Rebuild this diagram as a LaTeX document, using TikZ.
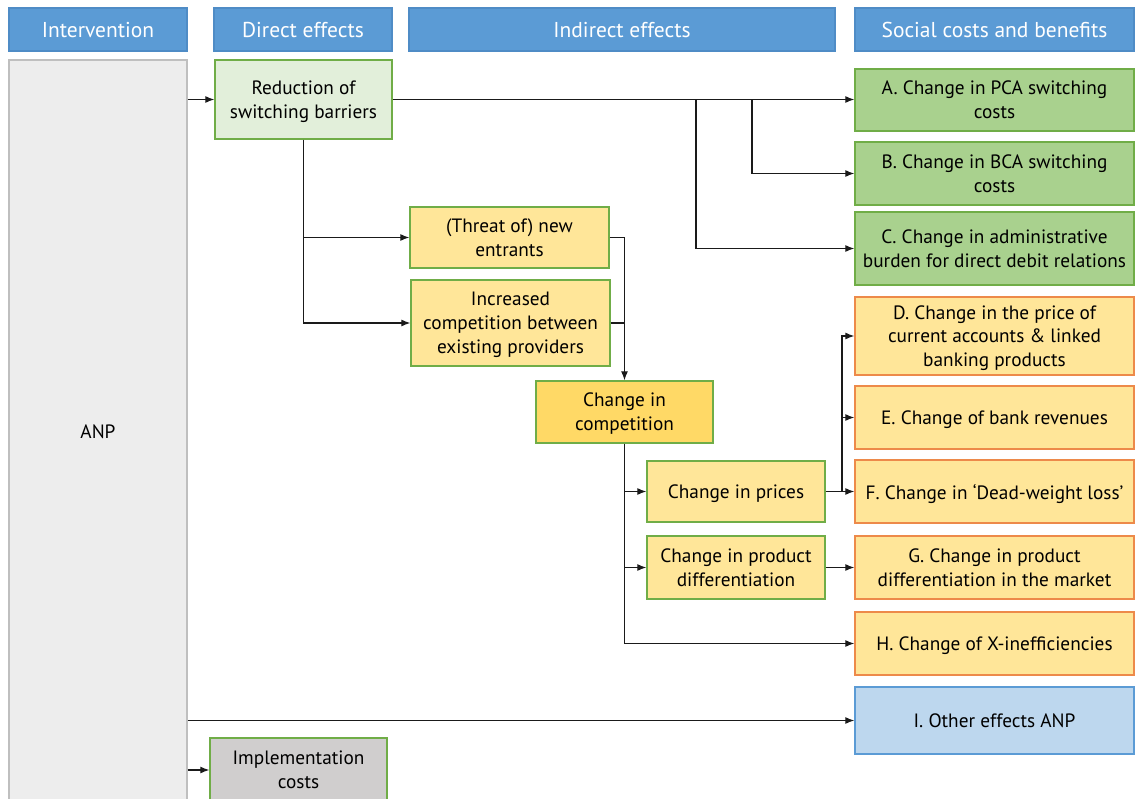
\documentclass[tikz,border=0pt]{standalone}
\usepackage{fontspec}
\setmainfont{PT Sans}
\usetikzlibrary{arrows.meta}
\definecolor{hdrfill}{HTML}{5B9BD5}
\definecolor{hdrdraw}{HTML}{4F8CC6}
\definecolor{anpfill}{HTML}{EDEDED}
\definecolor{anpdraw}{HTML}{BFBFBF}
\definecolor{ltgreen}{HTML}{E2EFDA}
\definecolor{midgreen}{HTML}{A9D18E}
\definecolor{grnline}{HTML}{70AD47}
\definecolor{ltyellow}{HTML}{FFE699}
\definecolor{dkyellow}{HTML}{FFD966}
\definecolor{orgline}{HTML}{ED8A4A}
\definecolor{ltblue}{HTML}{BDD7EE}
\definecolor{blueline}{HTML}{5B9BD5}
\definecolor{implfill}{HTML}{D0CECE}
\definecolor{conn}{HTML}{1A1A1A}
\tikzset{
  basebox/.style={rectangle, inner sep=2pt, align=center, line width=1.3pt,
    font=\fontsize{19.3}{23.8}\selectfont, text=black, text depth=0pt},
  hdr/.style={basebox, fill=hdrfill, draw=hdrdraw, text=white,
    font=\fontsize{21.5}{25}\selectfont, minimum height=43pt},
  anpbox/.style={basebox, fill=anpfill, draw=anpdraw},
  directbox/.style={basebox, fill=ltgreen, draw=grnline},
  greenbox/.style={basebox, fill=midgreen, draw=grnline, minimum width=279pt},
  yelbox/.style={basebox, fill=ltyellow, draw=grnline},
  compbox/.style={basebox, fill=dkyellow, draw=grnline},
  orgbox/.style={basebox, fill=ltyellow, draw=orgline, minimum width=279pt},
  bluebox/.style={basebox, fill=ltblue, draw=blueline, minimum width=279pt},
  implbox/.style={basebox, fill=implfill, draw=grnline},
  arr/.style={draw=conn, line width=1.2pt, -{Latex[length=9pt,width=7pt]}},
  ln/.style={draw=conn, line width=1.2pt},
}
\begin{document}
\begin{tikzpicture}[x=1pt,y=-1pt]
\useasboundingbox (0,0) rectangle (1135,798);
% headers
\node[hdr, minimum width=178pt] (hInt) at (98,29.5) {Intervention};
\node[hdr, minimum width=178pt] (hDir) at (303,29.5) {Direct effects};
\node[hdr, minimum width=426pt] (hInd) at (622,29.5) {Indirect effects};
\node[hdr, minimum width=279pt] (hSoc) at (994.5,29.5) {Social costs and benefits};
% intervention
\node[anpbox, minimum width=178pt, minimum height=744pt] (anp) at (98,432) {ANP};
% direct
\node[directbox, minimum width=177pt, minimum height=79pt] (red) at (303.5,99.5) {Reduction of\\switching barriers};
% indirect
\node[yelbox, minimum width=199pt, minimum height=61pt] (threat) at (509.5,237.5) {(Threat of) new\\entrants};
\node[yelbox, minimum width=199pt, minimum height=86pt] (incr) at (510.5,323) {Increased\\competition between\\existing providers};
\node[compbox, minimum width=177pt, minimum height=62pt] (comp) at (624.5,412) {Change in\\competition};
\node[yelbox, minimum width=178pt, minimum height=61pt] (prices) at (736,491.5) {Change in prices};
\node[yelbox, minimum width=178pt, minimum height=63pt] (pdiff) at (736,567.5) {Change in product\\differentiation};
\node[implbox, minimum width=177pt, minimum height=64pt] (impl) at (298.5,770) {Implementation\\costs};
% social costs and benefits
\node[greenbox, minimum height=62pt] (A) at (994.5,100) {A. Change in PCA switching\\costs};
\node[greenbox, minimum height=63pt] (B) at (994.5,173.5) {B. Change in BCA switching\\costs};
\node[greenbox, minimum height=73pt] (C) at (994.5,248.5) {C. Change in administrative\\burden for direct debit relations};
\node[orgbox, minimum height=78pt] (D) at (994.5,336) {D. Change in the price of\\current accounts \& linked\\banking products};
\node[orgbox, minimum height=63pt] (E) at (994.5,417.5) {E. Change of bank revenues};
\node[orgbox, minimum height=63pt] (F) at (994.5,491.5) {F. Change in `Dead-weight loss'};
\node[orgbox, minimum height=63pt] (G) at (994.5,567.5) {G. Change in product\\differentiation in the market};
\node[orgbox, minimum height=63pt] (H) at (994.5,643.5) {H. Change of X-inefficiencies};
\node[bluebox, minimum height=67pt] (I) at (994.5,720.5) {I. Other effects ANP};
% junction points
\coordinate (jB) at (752,99.5);
\coordinate (jC) at (696,99.5);
\coordinate (jP) at (842,491.5);
% connectors
\draw[arr] (anp.east |- red.west) -- (red.west);
\draw[arr] (red.east) -- (red.east -| A.west);
\draw[arr] (jB) |- (B.west);
\draw[arr] (jC) |- (C.west);
\draw[arr] (red.south) |- (incr.west);
\draw[arr] (red.south |- threat.west) -- (threat.west);
\draw[arr] (threat.east) -| (comp.north);
\draw[ln] (incr.east) -- (incr.east -| comp.north);
\draw[arr] (comp.south) |- (H.west);
\draw[arr] (comp.south |- prices.west) -- (prices.west);
\draw[arr] (comp.south |- pdiff.west) -- (pdiff.west);
\draw[arr] (prices.east) -- (F.west);
\draw[arr] (jP) |- (D.west);
\draw[arr] (jP) |- (E.west);
\draw[arr] (pdiff.east) -- (G.west);
\draw[arr] (anp.east |- I.west) -- (I.west);
\draw[arr] (anp.east |- impl.west) -- (impl.west);
\end{tikzpicture}
\end{document}
